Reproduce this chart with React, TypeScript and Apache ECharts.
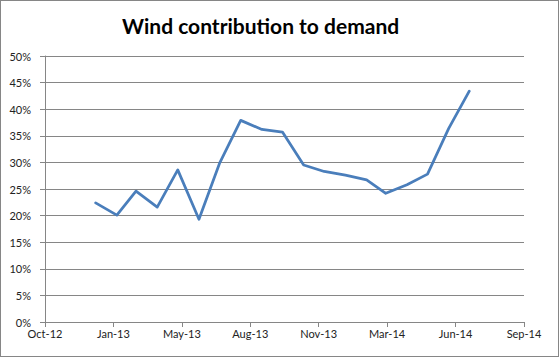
import React, { useEffect, useRef } from "react";
import * as echarts from "echarts";

// Month-end dates of each observation
const dates: string[] = [
  "2012-12-31", "2013-01-31", "2013-02-28", "2013-03-31", "2013-04-30", "2013-05-31",
  "2013-06-30", "2013-07-31", "2013-08-31", "2013-09-30", "2013-10-31", "2013-11-30",
  "2013-12-31", "2014-01-31", "2014-02-28", "2014-03-31", "2014-04-30", "2014-05-31",
  "2014-06-30",
];
// Wind contribution to demand (%)
const windShare: number[] = [
  22.4, 20.1, 24.6, 21.6, 28.6, 19.3, 29.8, 37.9, 36.2, 35.7, 29.5, 28.3,
  27.6, 26.7, 24.2, 25.8, 27.8, 36.4, 43.4,
];
// Axis range in Excel date serials (Oct 18 2012 .. Sep 18 2014, every 100 days)
const xMin = 41200;
const xMax = 41900;
const xStep = 100;
const monthNames = ["Jan", "Feb", "Mar", "Apr", "May", "Jun", "Jul", "Aug", "Sep", "Oct", "Nov", "Dec"];

const EPOCH = Date.UTC(1899, 11, 30);
const toSerial = (s: string) => {
  const [y, m, d] = s.split("-").map(Number);
  return Math.round((Date.UTC(y, m - 1, d) - EPOCH) / 86400000);
};
const fmtSerial = (v: number) => {
  const dt = new Date(EPOCH + v * 86400000);
  return monthNames[dt.getUTCMonth()] + "-" + String(dt.getUTCFullYear() % 100).padStart(2, "0");
};

export default function App() {
  const ref = useRef<HTMLDivElement>(null);
  useEffect(() => {
    document.body.style.margin = "0";
    const chart = echarts.init(ref.current!, null, { renderer: "svg" });
    const font = "Lato, 'Open Sans', sans-serif";
    chart.setOption({
      animation: false,
      title: {
        text: "Wind contribution to demand",
        left: 116,
        top: 9,
        textStyle: { fontFamily: font, fontWeight: "bold", fontSize: 21, color: "#000" },
      },
      grid: { left: 44, right: 34, top: 55, bottom: 34, containLabel: false },
      xAxis: {
        type: "value",
        min: xMin,
        max: xMax,
        interval: xStep,
        axisLine: { show: true, lineStyle: { color: "#868686", width: 1 } },
        axisTick: { show: true, length: 5, lineStyle: { color: "#868686" } },
        splitLine: { show: false },
        axisLabel: {
          formatter: (v: number) => fmtSerial(v),
          fontFamily: font,
          fontSize: 11,
          color: "#222",
          margin: 6,
          showMinLabel: true,
          showMaxLabel: true,
        },
      },
      yAxis: {
        type: "value",
        min: 0,
        max: 50,
        interval: 5,
        axisLine: { show: true, lineStyle: { color: "#868686", width: 1 } },
        axisTick: { show: true, length: 5, lineStyle: { color: "#868686" } },
        splitLine: { show: true, lineStyle: { color: "#868686", width: 1 } },
        axisLabel: {
          formatter: "{value}%",
          fontFamily: font,
          fontSize: 11,
          color: "#222",
          margin: 14,
        },
      },
      series: [
        {
          type: "line",
          data: dates.map((d, i) => [toSerial(d), windShare[i]]),
          showSymbol: false,
          symbol: "none",
          lineStyle: { color: "#4a7ebb", width: 2.75, cap: "round", join: "round" },
        },
      ],
    });
    return () => chart.dispose();
  }, []);
  return (
    <div
      style={{
        width: 559,
        height: 357,
        boxSizing: "border-box",
        border: "1px solid #868686",
        background: "#fff",
      }}
    >
      <div ref={ref} style={{ width: 557, height: 355 }} />
    </div>
  );
}
